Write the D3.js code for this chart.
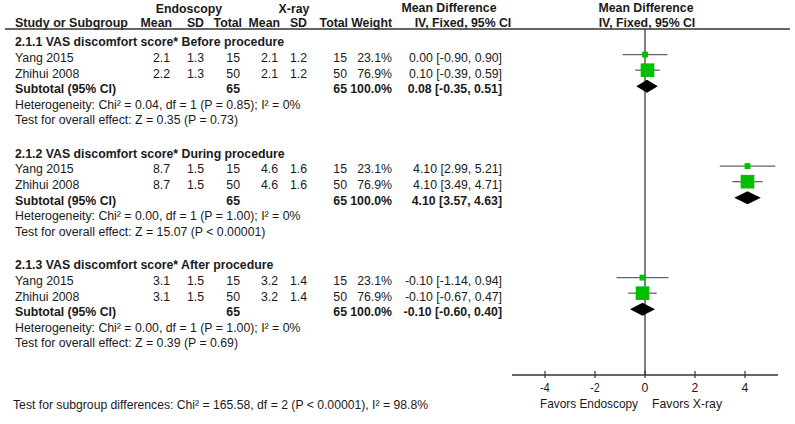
<!DOCTYPE html>
<html><head><meta charset="utf-8">
<script src="https://cdn.jsdelivr.net/npm/d3@7"></script>
<style>
html,body{margin:0;padding:0;background:#fff;}
svg{display:block;font-family:"Liberation Sans",Arial,sans-serif;}
</style></head>
<body><svg id="c" width="795" height="424"></svg>
<script>
// ---- data ----
const groupTitles = [
  "2.1.1 VAS discomfort score* Before procedure",
  "2.1.2 VAS discomfort score* During procedure",
  "2.1.3 VAS discomfort score* After procedure"
];
const studies = ["Yang 2015", "Zhihui 2008"];
const endoMean = [[2.1, 2.2], [8.7, 8.7], [3.1, 3.1]];
const endoSD   = [[1.3, 1.3], [1.5, 1.5], [1.5, 1.5]];
const endoN    = [[15, 50], [15, 50], [15, 50]];
const xrayMean = [[2.1, 2.1], [4.6, 4.6], [3.2, 3.2]];
const xraySD   = [[1.2, 1.2], [1.6, 1.6], [1.4, 1.4]];
const xrayN    = [[15, 50], [15, 50], [15, 50]];
const weights  = [[23.1, 76.9], [23.1, 76.9], [23.1, 76.9]];
const md       = [[0.00, 0.10], [4.10, 4.10], [-0.10, -0.10]];
const ciLow    = [[-0.90, -0.39], [2.99, 3.49], [-1.14, -0.67]];
const ciHigh   = [[0.90, 0.59], [5.21, 4.71], [0.94, 0.47]];
const subEndoN = [65, 65, 65];
const subXrayN = [65, 65, 65];
const subMD    = [0.08, 4.10, -0.10];
const subLow   = [-0.35, 3.57, -0.60];
const subHigh  = [0.51, 4.63, 0.40];
const heterogeneity = [
  "Heterogeneity: Chi² = 0.04, df = 1 (P = 0.85); I² = 0%",
  "Heterogeneity: Chi² = 0.00, df = 1 (P = 1.00); I² = 0%",
  "Heterogeneity: Chi² = 0.00, df = 1 (P = 1.00); I² = 0%"
];
const overallEffect = [
  "Test for overall effect: Z = 0.35 (P = 0.73)",
  "Test for overall effect: Z = 15.07 (P < 0.00001)",
  "Test for overall effect: Z = 0.39 (P = 0.69)"
];
const subgroupTest = "Test for subgroup differences: Chi² = 165.58, df = 2 (P < 0.00001), I² = 98.8%";
const tickValues = [-4, -2, 0, 2, 4];
const xDomain = [-5.32, 5.32];
const favorsLeft = "Favors Endoscopy";
const favorsRight = "Favors X-ray";

// ---- layout ----
const svg = d3.select("#c");
svg.append("rect").attr("width", 795).attr("height", 424).attr("fill", "#fff");
const txtCol = "#1a1a1a";
const x = d3.scaleLinear().domain(xDomain).range([512, 778]);
const groupY = d3.scaleLinear().domain([0, 2]).range([42, 265]);
const rowStep = 15.6;
const sizeScale = d3.scaleLinear().domain([0, 100]).range([2.5, 17]);
const fmt1 = d3.format(".1f"), fmt2 = d3.format(".2f");
const fmtMD = (m, l, h) => `${fmt2(m)} [${fmt2(l)}, ${fmt2(h)}]`.replace(/−/g, "-");

function text(xp, yp, s, opts = {}) {
  const t = svg.append("text").attr("x", xp).attr("y", yp).attr("dy", "0.35em")
    .attr("font-size", opts.size || 12.3).attr("fill", txtCol)
    .attr("text-anchor", opts.anchor || "start")
    .attr("font-weight", opts.bold ? "bold" : "normal").text(s);
  if (opts.len) t.attr("textLength", opts.len).attr("lengthAdjust", "spacingAndGlyphs");
  return t;
}

// headers
text(189, 9, "Endoscopy", {bold: true, anchor: "middle"});
text(294, 9, "X-ray", {bold: true, anchor: "middle"});
text(449, 8, "Mean Difference", {bold: true, anchor: "middle"});
text(646, 8, "Mean Difference", {bold: true, anchor: "middle"});
const hy = 23;
text(15, hy, "Study or Subgroup", {bold: true, len: 113});
text(172, hy, "Mean", {bold: true, anchor: "end"});
text(204, hy, "SD", {bold: true, anchor: "end"});
text(242, hy, "Total", {bold: true, anchor: "end"});
text(280, hy, "Mean", {bold: true, anchor: "end"});
text(307, hy, "SD", {bold: true, anchor: "end"});
text(348, hy, "Total", {bold: true, anchor: "end"});
text(392, hy, "Weight", {bold: true, anchor: "end"});
text(463, hy, "IV, Fixed, 95% CI", {bold: true, anchor: "middle"});
text(647, hy, "IV, Fixed, 95% CI", {bold: true, anchor: "middle"});

// zero line
const axisY = 375;
svg.append("line").attr("x1", x(0)).attr("x2", x(0)).attr("y1", 29).attr("y2", axisY)
  .attr("stroke", "#7f7f7f").attr("stroke-width", 2);
// header rule
svg.append("line").attr("x1", 5).attr("x2", 790).attr("y1", 29).attr("y2", 29)
  .attr("stroke", "#333").attr("stroke-width", 1.3);

const markOff = -3;
groupTitles.forEach((g, gi) => {
  const y0 = groupY(gi);
  text(15, y0, g, {bold: true});
  studies.forEach((s, si) => {
    const y = y0 + rowStep * (si + 1);
    text(15, y, s);
    text(170, y, fmt1(endoMean[gi][si]), {anchor: "end"});
    text(204, y, fmt1(endoSD[gi][si]), {anchor: "end"});
    text(240, y, endoN[gi][si], {anchor: "end"});
    text(278, y, fmt1(xrayMean[gi][si]), {anchor: "end"});
    text(307, y, fmt1(xraySD[gi][si]), {anchor: "end"});
    text(347, y, xrayN[gi][si], {anchor: "end"});
    text(392, y, fmt1(weights[gi][si]) + "%", {anchor: "end"});
    text(502, y, fmtMD(md[gi][si], ciLow[gi][si], ciHigh[gi][si]), {anchor: "end"});
    const my = y + markOff;
    svg.append("line").attr("x1", x(ciLow[gi][si])).attr("x2", x(ciHigh[gi][si]))
      .attr("y1", my).attr("y2", my).attr("stroke", "#666").attr("stroke-width", 1.3);
    const sz = sizeScale(weights[gi][si]);
    svg.append("rect").attr("x", x(md[gi][si]) - sz / 2).attr("y", my - sz / 2)
      .attr("width", sz).attr("height", sz).attr("fill", "#00c000");
  });
  const ys = y0 + rowStep * 3;
  text(15, ys, "Subtotal (95% CI)", {bold: true});
  text(240, ys, subEndoN[gi], {anchor: "end", bold: true});
  text(347, ys, subXrayN[gi], {anchor: "end", bold: true});
  text(392, ys, "100.0%", {anchor: "end", bold: true});
  text(502, ys, fmtMD(subMD[gi], subLow[gi], subHigh[gi]), {anchor: "end", bold: true});
  const dy = ys + markOff + 0.5, hh = 6.5;
  svg.append("path").attr("d",
    `M${x(subLow[gi])},${dy} L${x(subMD[gi])},${dy - hh} L${x(subHigh[gi])},${dy} L${x(subMD[gi])},${dy + hh} Z`)
    .attr("fill", "#000");
  text(15, y0 + rowStep * 4, heterogeneity[gi]);
  text(15, y0 + rowStep * 5, overallEffect[gi]);
});

// axis
const axis = svg.append("g");
axis.append("line").attr("x1", x.range()[0]).attr("x2", x.range()[1])
  .attr("y1", axisY).attr("y2", axisY).attr("stroke", "#333").attr("stroke-width", 1.3);
tickValues.forEach(v => {
  axis.append("line").attr("x1", x(v)).attr("x2", x(v)).attr("y1", axisY - 4).attr("y2", axisY + 3)
    .attr("stroke", "#333").attr("stroke-width", 1.2);
  const lbl = v < 0 ? "-" + Math.abs(v) : String(v);
  const t = text(x(v), 387, lbl, {anchor: "middle", size: 13.5});
  t.attr("textLength", v < 0 ? 9.5 : 6.8).attr("lengthAdjust", "spacingAndGlyphs");
});
text(540, 403, favorsLeft, {size: 13.5, len: 98});
text(652, 403, favorsRight, {size: 13.5, len: 70});
text(13, 404, subgroupTest, {size: 13, len: 415});
</script></body></html>
